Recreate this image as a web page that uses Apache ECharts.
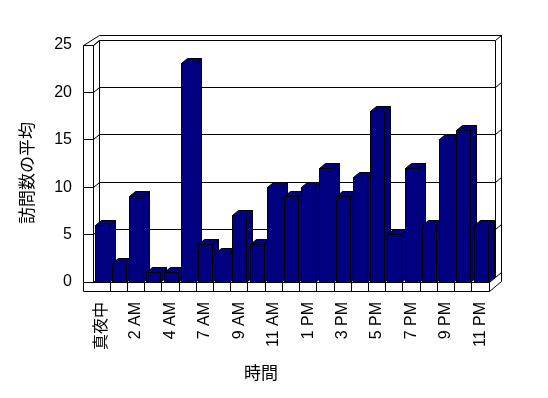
<!DOCTYPE html>
<html>
<head>
<meta charset="utf-8">
<script src="https://cdn.jsdelivr.net/npm/echarts@6/dist/echarts.min.js"></script>
<style>html,body{margin:0;padding:0;background:#fff}#c{width:548px;height:398px}</style>
</head>
<body>
<div id="c"></div>
<script>
const categories = ['真夜中','1 AM','2 AM','3 AM','4 AM','6 AM','7 AM','8 AM','9 AM','10 AM','11 AM','正午','1 PM','2 PM','3 PM','4 PM','5 PM','6 PM','7 PM','8 PM','9 PM','10 PM','11 PM'];
const visits = [6,2,9,1,1,23,4,3,7,4,10,9,10,12,9,11,18,5,12,6,15,16,6];
const yTicks = [0,5,10,15,20,25];
const xTitle = '時間';
const yTitle = '訪問数の平均';

const DX = 6, DY = -5;      // bar depth offset
const WALL = 9.5;           // wall thickness (px)
const BAR_COLOR = '#000080';
const LINE = '#000';
const FONT = '"Liberation Sans", "Noto Sans CJK JP", sans-serif';

const r = v => Math.round(v - 0.5) + 0.5;

function seg(x1, y1, x2, y2) {
  return { type: 'line', shape: { x1: r(x1), y1: r(y1), x2: r(x2), y2: r(y2) },
           style: { stroke: LINE, lineWidth: 1 }, silent: true };
}

function renderFrame(params, api) {
  const n = categories.length;
  const bw = api.size([1, 0])[0];
  const x0 = api.coord([0, 0])[0] - bw / 2;
  const x1 = api.coord([n - 1, 0])[0] + bw / 2;
  const yv = v => api.coord([0, v])[1];
  const y0 = yv(0), yt = yv(yTicks[yTicks.length - 1]);
  const yb = y0 + WALL;
  const xl = x0 - WALL;
  const ch = [];
  // left wall
  ch.push(seg(xl, yt, xl, yb));
  ch.push(seg(x0, yt, x0, y0));
  ch.push(seg(xl, yt, x0, yt));
  ch.push(seg(xl, yt, x0 + DX, yt + 2 * DY));
  ch.push(seg(x0, yt, x0 + DX, yt + DY));
  // back wall top
  ch.push(seg(x0 + DX, yt + 2 * DY, x1 + 2 * DX, yt + 2 * DY));
  // back wall inner left edge and right edges
  ch.push(seg(x0 + DX, yt + DY, x0 + DX, y0 + DY));
  ch.push(seg(x1 + DX, yt + DY, x1 + DX, y0 + DY));
  ch.push(seg(x1 + 2 * DX, yt + 2 * DY, x1 + 2 * DX, yb + 2 * DY));
  // gridlines
  yTicks.forEach(v => {
    const y = yv(v);
    ch.push(seg(xl, y, x0, y));
    ch.push(seg(x0, y, x0 + DX, y + DY));
    ch.push(seg(x0 + DX, y + DY, x1 + DX, y + DY));
    ch.push(seg(x1 + DX, y + DY, x1 + 2 * DX, y + 2 * DY));
  });
  // floor
  ch.push(seg(xl, yb, x1, yb));
  ch.push(seg(x0, y0, x1, y0));
  ch.push(seg(x1, y0, x1, yb));
  ch.push(seg(x1, yb, x1 + 2 * DX, yb + 2 * DY));
  ch.push(seg(x1, y0, x1 + DX, y0 + DY));
  for (let i = 1; i < n; i++) {
    const x = x0 + i * bw;
    ch.push(seg(x, y0, x, yb));
  }
  return { type: 'group', children: ch };
}

function renderBar(params, api) {
  const idx = api.value(0), v = api.value(1);
  const bw = api.size([1, 0])[0];
  const c = api.coord([idx, v]);
  const b = api.coord([idx, 0]);
  const left = r(c[0] - bw / 2 + 0.13 * bw);
  const right = r(left + 0.83 * bw);
  const top = r(c[1]), bot = r(b[1]);
  const st = { fill: BAR_COLOR, stroke: LINE, lineWidth: 1 };
  return {
    type: 'group',
    children: [
      { type: 'polygon', shape: { points: [[left, top], [right, top], [right, bot], [left, bot]] }, style: st },
      { type: 'polygon', shape: { points: [[right, top], [right + DX, top + DY], [right + DX, bot + DY], [right, bot]] }, style: st },
      { type: 'polygon', shape: { points: [[left, top], [left + DX, top + DY], [right + DX, top + DY], [right, top]] }, style: st }
    ]
  };
}

const chart = echarts.init(document.getElementById('c'), null, { renderer: 'canvas' });
chart.setOption({
  animation: false,
  backgroundColor: '#fff',
  grid: { left: 93, right: 59, top: 45, bottom: 116 },
  xAxis: {
    type: 'category',
    data: categories,
    axisLine: { show: false },
    axisTick: { show: false },
    splitLine: { show: false },
    axisLabel: { rotate: 90, interval: 1, margin: 20, color: '#000', fontSize: 16, fontFamily: FONT }
  },
  yAxis: {
    type: 'value',
    min: 0, max: 25, interval: 5,
    axisLine: { show: false },
    axisTick: { show: false },
    splitLine: { show: false },
    axisLabel: { margin: 21, color: '#000', fontSize: 16, fontFamily: FONT }
  },
  graphic: [
    { type: 'text', x: 261, y: 374, silent: true,
      style: { text: xTitle, fill: '#000', font: '17px ' + FONT, align: 'center', verticalAlign: 'middle' } },
    { type: 'text', x: 28.5, y: 173, rotation: Math.PI / 2, silent: true,
      style: { text: yTitle, fill: '#000', font: '17px ' + FONT, align: 'center', verticalAlign: 'middle' } }
  ],
  series: [
    { type: 'custom', name: 'frame', data: [[0, 0]], renderItem: renderFrame, z: 1, silent: true },
    { type: 'custom', name: '訪問数の平均', data: visits.map((v, i) => [i, v]), renderItem: renderBar, z: 2,
      encode: { x: 0, y: 1 } }
  ]
});
</script>
</body>
</html>
